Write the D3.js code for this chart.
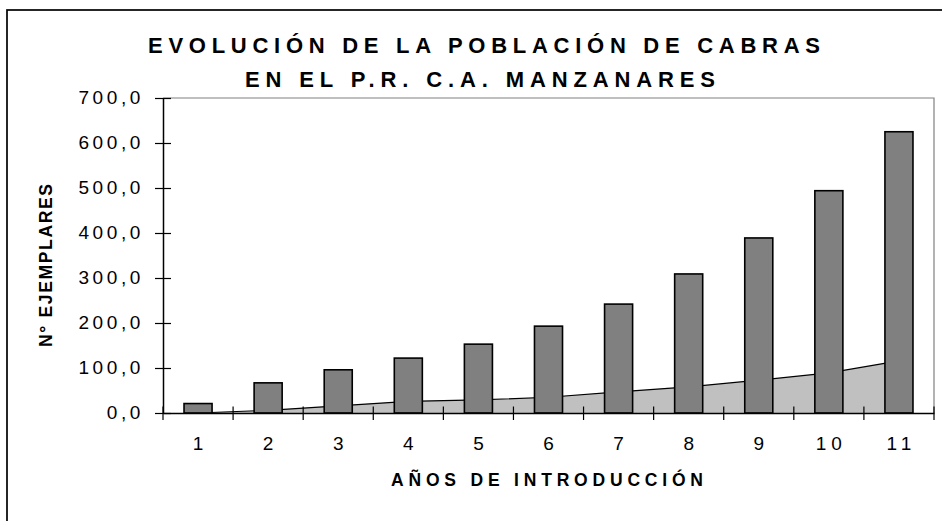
<!DOCTYPE html>
<html><head><meta charset="utf-8">
<script src="https://cdn.jsdelivr.net/npm/d3@7/dist/d3.min.js"></script>
<style>body{margin:0;background:#fff}svg{display:block;font-family:"Liberation Sans",Arial,sans-serif}</style>
</head><body><div id="chart"></div>
<script>
const categories = ["1","2","3","4","5","6","7","8","9","10","11"];
const ejemplares = [21, 67, 96, 122, 153, 193, 242, 309, 389, 494, 625];
const areaValues = [0, 6, 16, 26, 29, 35, 47, 58, 73, 89, 116];
const yTicks = [0, 100, 200, 300, 400, 500, 600, 700];
const titleLines = ["EVOLUCIÓN DE LA POBLACIÓN DE CABRAS", "EN EL P.R. C.A. MANZANARES"];
const xTitle = "AÑOS DE INTRODUCCIÓN";
const yTitle = "N° EJEMPLARES";

const W = 942, H = 521;
const m = {left: 163, right: 934, top: 98, bottom: 413};
const svg = d3.select("#chart").append("svg").attr("width", W).attr("height", H);

// outer border (clipped by viewport)
svg.append("rect").attr("x", 7).attr("y", 10).attr("width", 1000).attr("height", 600)
  .attr("fill", "#fff").attr("stroke", "#000").attr("stroke-width", 1.7);

const x = d3.scaleBand().domain(categories).range([m.left, m.right]).paddingInner(0).paddingOuter(0);
const y = d3.scaleLinear().domain([0, 700]).range([m.bottom, m.top]);
const loc = d3.formatLocale({decimal: ",", thousands: ".", grouping: [3], currency: ["", ""]});
const fmt = loc.format(".1f");

// plot frame (top & right, gray)
svg.append("path").attr("d", `M${m.left},${m.top}H${m.right}V${m.bottom}`)
  .attr("fill", "none").attr("stroke", "#808080").attr("stroke-width", 1.2);

// area series
const cx = d => x(d) + x.bandwidth() / 2;
const areaData = categories.map((c, i) => ({c, v: areaValues[i]}));
svg.append("path").datum(areaData)
  .attr("d", d3.area().x(d => cx(d.c)).y0(y(0)).y1(d => y(d.v)))
  .attr("fill", "#c0c0c0");
svg.append("path").datum(areaData)
  .attr("d", d3.line().x(d => cx(d.c)).y(d => y(d.v)))
  .attr("fill", "none").attr("stroke", "#000").attr("stroke-width", 1.2);

// bars
const bw = x.bandwidth() * 0.4;
svg.append("g").selectAll("rect").data(categories).join("rect")
  .attr("x", d => cx(d) - bw / 2)
  .attr("y", (d, i) => y(ejemplares[i]))
  .attr("width", bw)
  .attr("height", (d, i) => y(0) - y(ejemplares[i]))
  .attr("fill", "#808080").attr("stroke", "#000").attr("stroke-width", 1.6);

// y axis
const ya = svg.append("g").attr("transform", `translate(${m.left},0)`)
  .call(d3.axisLeft(y).tickValues(yTicks).tickFormat(fmt).tickSize(0).tickPadding(0));
ya.select(".domain").attr("stroke", "#000").attr("stroke-width", 1.5);
ya.selectAll(".tick line").attr("x1", -8).attr("x2", 8).attr("stroke", "#000").attr("stroke-width", 1.2);
ya.selectAll(".tick text").attr("x", -19).attr("dy", "0.28em")
  .attr("font-size", 19).attr("letter-spacing", 3.6).attr("fill", "#000")
  .attr("font-family", '"Liberation Sans",Arial,sans-serif');

// x axis
const xa = svg.append("g").attr("transform", `translate(0,${m.bottom})`)
  .call(d3.axisBottom(x).tickSize(0).tickPadding(0));
xa.select(".domain").attr("stroke", "#000").attr("stroke-width", 1.5);
xa.selectAll(".tick text").attr("y", 0).attr("dy", 0).attr("transform", "translate(2.5,37)")
  .attr("font-size", 19).attr("letter-spacing", 5).attr("fill", "#000")
  .attr("font-family", '"Liberation Sans",Arial,sans-serif');
const bounds = categories.map(c => x(c)).concat([m.right]);
svg.append("g").selectAll("line").data(bounds).join("line")
  .attr("x1", d => d).attr("x2", d => d)
  .attr("y1", m.bottom - 6.5).attr("y2", m.bottom + 7)
  .attr("stroke", "#000").attr("stroke-width", 1.2);

// titles
const tl = [{t: titleLines[0], y: 53, w: 672, cx: 484}, {t: titleLines[1], y: 87, w: 470, cx: 480}];
svg.append("g").selectAll("text").data(tl).join("text")
  .attr("x", d => d.cx - d.w / 2).attr("y", d => d.y)
  .attr("textLength", d => d.w).attr("lengthAdjust", "spacing")
  .attr("font-size", 22).attr("font-weight", "bold").text(d => d.t);

svg.append("text").attr("x", 391).attr("y", 486).attr("textLength", 312).attr("lengthAdjust", "spacing")
  .attr("font-size", 17.5).attr("font-weight", "bold").text(xTitle);

svg.append("text").attr("transform", "translate(52,347) rotate(-90)")
  .attr("textLength", 163).attr("lengthAdjust", "spacing")
  .attr("font-size", 17.5).attr("font-weight", "bold").text(yTitle);
</script></body></html>
